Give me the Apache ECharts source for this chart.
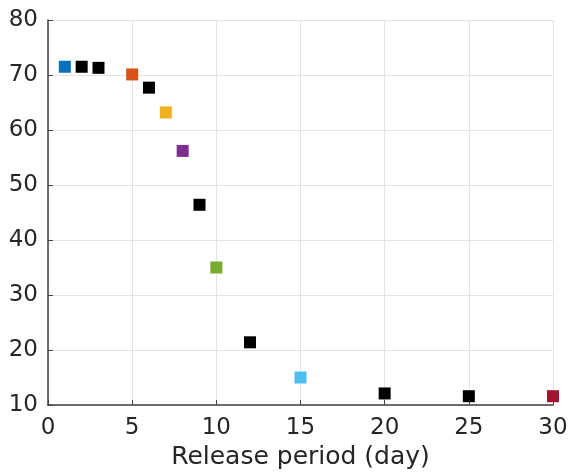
<!DOCTYPE html>
<html>
<head>
<meta charset="utf-8">
<script src="https://cdn.jsdelivr.net/npm/echarts@6/dist/echarts.min.js"></script>
<style>
  html, body { margin: 0; padding: 0; background: #fff; }
  #main { width: 568px; height: 473px; }
</style>
</head>
<body>
<div id="main"></div>
<script>
// release period (day) and value for each square
var days = [1, 2, 3, 5, 6, 7, 8, 9, 10, 12, 15, 20, 25, 30];
var values = [71.5, 71.5, 71.3, 70.1, 67.7, 63.2, 56.2, 46.4, 35.0, 21.4, 15.0, 12.1, 11.6, 11.6];
var colors = ['#0072BD', '#000000', '#000000', '#D95319', '#000000', '#EDB120', '#7E2F8E',
              '#000000', '#77AC30', '#000000', '#4DBEEE', '#000000', '#000000', '#A2142F'];
var xTitle = 'Release period (day)';

var chart = echarts.init(document.getElementById('main'));

var points = [];
for (var i = 0; i < days.length; i++) {
    points.push({ value: [days[i], values[i]], itemStyle: { color: colors[i], opacity: 1 } });
}

var font = 'DejaVu Sans';
var textColor = '#262626';

var option = {
    animation: false,
    grid: { left: 48, right: 15, top: 20, bottom: 68, outerBoundsMode: 'none', containLabel: false },
    xAxis: {
        type: 'value',
        min: 0, max: 30, interval: 5,
        name: xTitle,
        nameLocation: 'middle',
        nameGap: 40,
        nameTextStyle: { fontFamily: font, fontSize: 25, color: textColor },
        axisLine: { show: true, onZero: false, lineStyle: { color: '#404040', width: 1.5 } },
        axisTick: { show: true, inside: true, length: 5, lineStyle: { color: '#404040' } },
        axisLabel: { fontFamily: font, fontSize: 23, color: textColor, margin: 12 },
        splitLine: { show: true, lineStyle: { color: '#e3e3e3', width: 1 } }
    },
    yAxis: {
        type: 'value',
        min: 10, max: 80, interval: 10,
        axisLine: { show: true, onZero: false, lineStyle: { color: '#404040', width: 1.5 } },
        axisTick: { show: true, inside: true, length: 5, lineStyle: { color: '#404040' } },
        axisLabel: { fontFamily: font, fontSize: 23, color: textColor, margin: 10 },
        splitLine: { show: true, lineStyle: { color: '#e3e3e3', width: 1 } }
    },
    series: [{
        type: 'scatter',
        symbol: 'rect',
        symbolSize: 12,
        itemStyle: { opacity: 1 },
        data: points
    }]
};

option && chart.setOption(option);
</script>
</body>
</html>
